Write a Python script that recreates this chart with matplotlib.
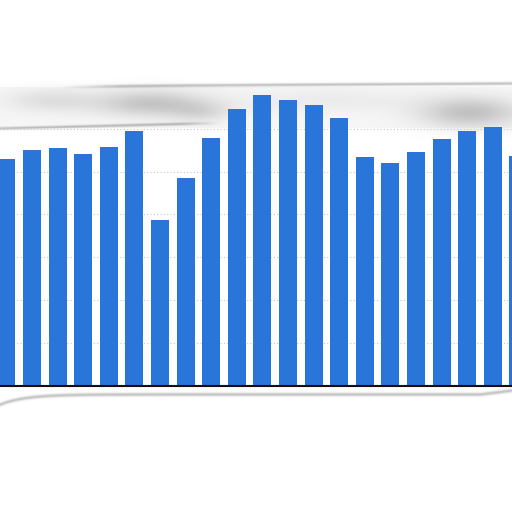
import matplotlib
matplotlib.use("Agg")
import matplotlib.pyplot as plt
import numpy as np

# Data (units: one gridline step = 10)
categories = list(range(21))
values = [53.0, 55.1, 55.5, 54.1, 55.8, 59.4, 38.8, 48.5, 57.9, 64.6, 67.8,
          66.7, 65.5, 62.5, 53.4, 51.9, 54.5, 57.5, 59.4, 60.4, 53.7]
y_ticks = [0, 10, 20, 30, 40, 50, 60]

BAR_COLOR = "#2a75d9"

fig = plt.figure(figsize=(5.12, 5.12), dpi=100)
fig.patch.set_facecolor("white")
ax = fig.add_axes([0, 0.2467, 1, 0.5855])
ax.set_facecolor("white")

ax.bar(categories, values, width=0.70, color=BAR_COLOR, zorder=3)
ax.set_xlim(-0.25, 19.75)
ax.set_ylim(0, 70)
ax.set_yticks(y_ticks)
ax.yaxis.grid(True, color="#c8c8c8", linestyle=(0, (1, 2)), linewidth=0.8, zorder=0)
ax.tick_params(left=False, bottom=False, labelleft=False, labelbottom=False)
for s in ["top", "left", "right"]:
    ax.spines[s].set_visible(False)
ax.spines["bottom"].set_color("#111111")
ax.spines["bottom"].set_linewidth(1.5)
ax.spines["bottom"].set_zorder(4)

# paper-like shadow decoration (background overlay)
H, W = 512, 512
yy, xx = np.mgrid[0:H, 0:W]
shade = np.zeros((H, W))
def blob(cx, cy, sx, sy, a):
    return a * np.exp(-(((xx - cx) / sx) ** 2 + ((yy - cy) / sy) ** 2))
shade += blob(150, 103, 55, 13, 0.30)
shade += blob(200, 112, 30, 10, 0.15)
shade += blob(50, 100, 45, 12, 0.14)
shade += blob(470, 112, 50, 15, 0.32)
shade += blob(330, 100, 100, 12, 0.07)
# light band under the top edge
band = ((yy > 86) & (yy < 128)).astype(float) * 0.05
shade += band
# thin lines
shade += 0.35 * np.exp(-((yy - (86 - 3 * (xx / W) + 3 * np.exp(-xx / 60))) / 1.6) ** 2) * np.clip((xx - 60) / 60, 0, 1)
shade += 0.35 * np.exp(-((yy - (128 - 5 * np.clip(xx / 200, 0, 1))) / 1.5) ** 2) * np.clip((220 - xx) / 40, 0, 1)
bot = 394 + 10 * np.exp(-xx / 25) - 4 * np.clip((xx - 480) / 32, 0, 1)
shade += 0.35 * np.exp(-((yy - bot) / 1.8) ** 2)
shade = np.clip(shade, 0, 1)
rgba = np.zeros((H, W, 4))
rgba[..., :3] = 0.35
rgba[..., 3] = shade
over = fig.add_axes([0, 0, 1, 1], zorder=-1)
over.imshow(rgba, extent=(0, W, H, 0), aspect="auto", interpolation="bilinear")
over.set_xlim(0, W); over.set_ylim(H, 0)
over.axis("off")
ax.set_zorder(1)
ax.patch.set_alpha(0)

fig.savefig("out.png", dpi=100, facecolor="white")
